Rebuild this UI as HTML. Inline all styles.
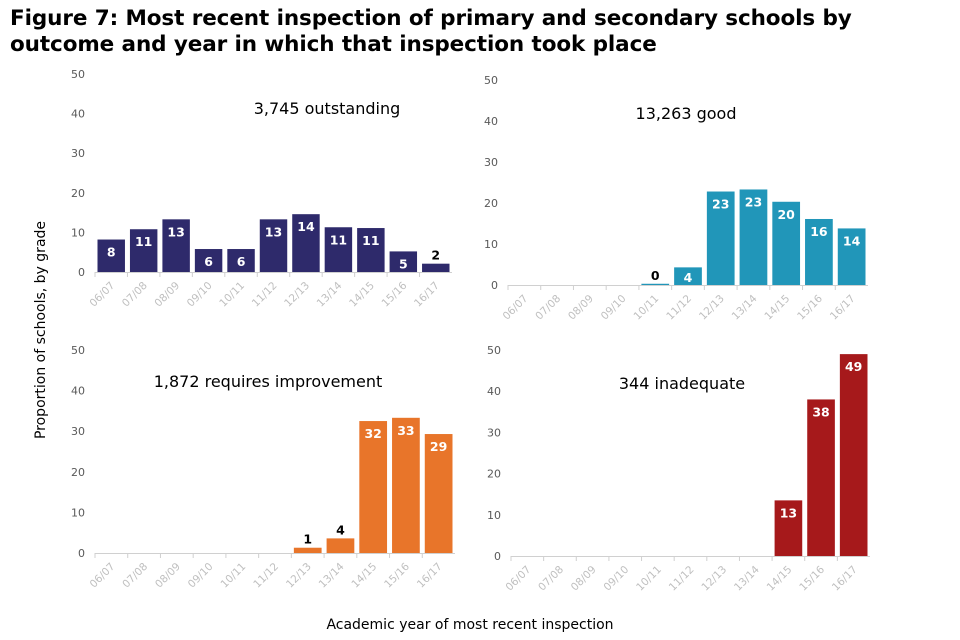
<!DOCTYPE html>
<html><head><meta charset="utf-8"><style>
body{margin:0;width:960px;height:640px;background:#fff;overflow:hidden;font-family:"DejaVu Sans","Liberation Sans",sans-serif}
h1{position:absolute;left:10px;top:6px;margin:0;font-size:21.5px;line-height:26px;font-weight:bold;color:#000;letter-spacing:-0.1px}
svg{position:absolute;left:0;top:0}
</style></head><body>
<h1>Figure 7: Most recent inspection of primary and secondary schools by<br>outcome and year in which that inspection took place</h1>
<svg id="c" width="960" height="640"></svg>
<script>
const categories=["06/07","07/08","08/09","09/10","10/11","11/12","12/13","13/14","14/15","15/16","16/17"];
const outstandingValues=[8.2,10.8,13.3,5.8,5.8,13.3,14.6,11.3,11.1,5.2,2.1];
const goodValues=[null,null,null,null,0.3,4.3,22.8,23.3,20.3,16.1,13.8];
const riValues=[null,null,null,null,null,null,1.3,3.6,32.5,33.3,29.3];
const inadequateValues=[null,null,null,null,null,null,null,null,13.5,38,49];
const outstandingLabels=["8","11","13","6","6","13","14","11","11","5","2"];
const goodLabels=["","","","","0","4","23","23","20","16","14"];
const riLabels=["","","","","","","1","4","32","33","29"];
const inadequateLabels=["","","","","","","","","13","38","49"];
const yTicks=[0,10,20,30,40,50];
const NS="http://www.w3.org/2000/svg";
const svg=document.getElementById('c');
function mk(t,a,p){const e=document.createElementNS(NS,t);for(const k in a)e.setAttribute(k,a[k]);(p||svg).appendChild(e);return e;}
const panels=[
 {name:"outstanding",vals:outstandingValues,labels:outstandingLabels,color:"#2e2a6b",x0:95,x1:452,y0:272,y50:74,title:"3,745 outstanding",tx:327,ty:114},
 {name:"good",vals:goodValues,labels:goodLabels,color:"#2196b9",x0:508,x1:868,y0:285,y50:80,title:"13,263 good",tx:686,ty:119},
 {name:"requires-improvement",vals:riValues,labels:riLabels,color:"#e8752a",x0:95,x1:455,y0:553,y50:350,title:"1,872 requires improvement",tx:268,ty:387},
 {name:"inadequate",vals:inadequateValues,labels:inadequateLabels,color:"#a6191b",x0:511,x1:870,y0:556,y50:350,title:"344 inadequate",tx:682,ty:389}
];
panels.forEach(p=>{
 const g=mk('g',{});
 
 
 const ys=v=>p.y0-(v/50)*(p.y0-p.y50);
 const bw=(p.x1-p.x0)/categories.length;
 const xs=i=>p.x0+i*bw;
 yTicks.forEach(t=>{
  const tx=mk('text',{x:p.x0-10,y:ys(t)+4,'text-anchor':'end','font-size':11,fill:'#595959'},g);
  tx.textContent=t;
  
  
 });
 const ax=mk('line',{x1:p.x0,x2:p.x1,y1:p.y0+0.5,y2:p.y0+0.5,stroke:'#d0d0d0'},g);
 
 
 categories.forEach((c,i)=>{
  mk('line',{x1:xs(i),x2:xs(i),y1:p.y0,y2:p.y0+5,stroke:'#d0d0d0'},g);
  const cx=xs(i)+bw/2+4,cy=p.y0+14;
  const tl=mk('text',{x:cx,y:cy,'text-anchor':'end','font-size':10.5,fill:'#bfbfbf',transform:`rotate(-45 ${cx} ${cy})`},g);
  tl.textContent=c;
  
  
  const v=p.vals[i];
  if(v==null)return;
  const top=ys(v);
  const r=mk('rect',{x:xs(i)+2.5,y:top,width:bw-5,height:p.y0-top,fill:p.color},g);
  
  
  const lab=p.labels[i];
  const inside=(p.y0-top)>16;
  const lt=mk('text',{x:xs(i)+bw/2,y:inside?Math.min(top+17,p.y0-3):top-4,'text-anchor':'middle','font-size':12.5,'font-weight':'bold',fill:inside?'#fff':'#000'},g);
  lt.textContent=lab;
  
  
 });
 const tt=mk('text',{x:p.tx,y:p.ty,'text-anchor':'middle','font-size':16,fill:'#000'},g);
 tt.textContent=p.title;
 
 
});
const yl=mk('text',{x:45,y:330,'text-anchor':'middle','font-size':14,fill:'#000',transform:'rotate(-90 45 330)'});
yl.textContent="Proportion of schools, by grade";


const xl=mk('text',{x:470,y:629,'text-anchor':'middle','font-size':14,fill:'#000'});
xl.textContent="Academic year of most recent inspection";


</script>
</body></html>
